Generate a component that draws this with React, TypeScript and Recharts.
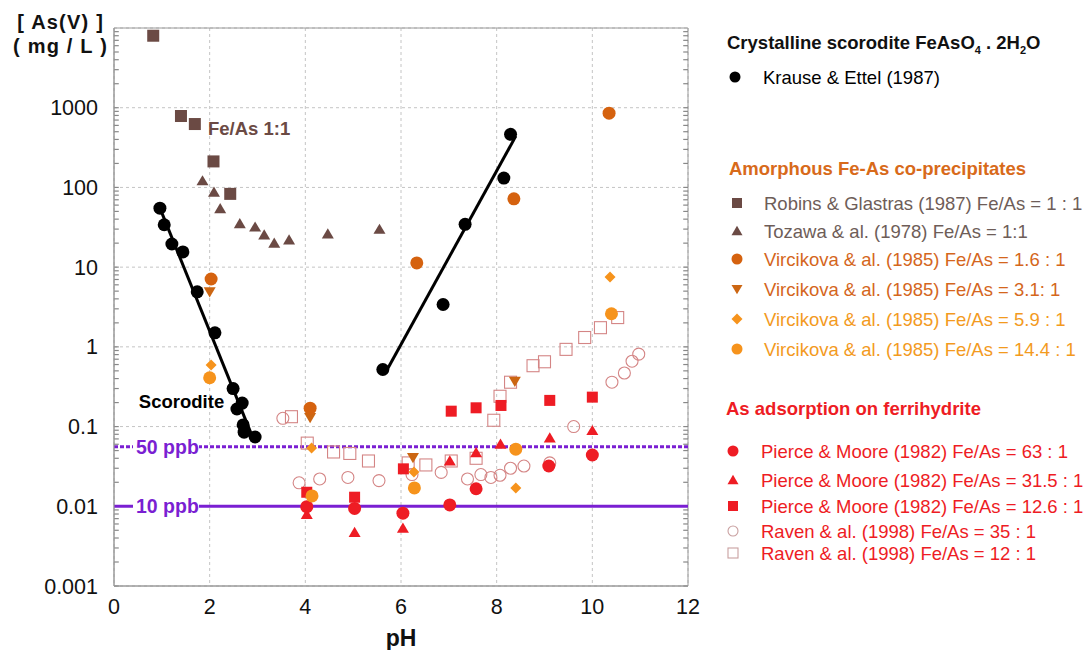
import React from 'react';
import {
  ScatterChart,
  Scatter,
  XAxis,
  YAxis,
  CartesianGrid,
  ReferenceLine,
  ReferenceArea,
  ReferenceDot,
} from 'recharts';

type Pt = { ph: number; as: number };
const P = (pairs: number[][]): Pt[] => pairs.map(([ph, as]) => ({ ph, as }));

// ---------- data ----------
const krauseEttel = P([
  [0.96, 55], [1.05, 34], [1.21, 19.5], [1.44, 15.5], [1.74, 4.9], [2.11, 1.5],
  [2.49, 0.3], [2.57, 0.166], [2.68, 0.197], [2.7, 0.105], [2.72, 0.085], [2.95, 0.074],
  [5.62, 0.52], [6.88, 3.4], [7.34, 34.4], [8.15, 131], [8.29, 463],
]);
const scoroditeFitAcid = P([[0.95, 57], [2.88, 0.078]]);
const scoroditeFitBasic = P([[5.68, 0.48], [8.4, 440]]);

const robinsGlastras = P([[0.82, 8000], [1.4, 787], [1.69, 624], [2.08, 212], [2.43, 83]]);
const tozawa = P([
  [1.85, 121], [2.09, 87], [2.22, 54], [2.63, 35], [2.95, 31.8], [3.14, 25.3],
  [3.35, 20], [3.66, 21.9], [4.47, 26], [5.55, 29.8],
]);
const vircikova16 = P([[2.03, 7.1], [4.1, 0.17], [6.33, 11.3], [8.36, 72], [10.35, 855]]);
const vircikova31 = P([[2.0, 4.9], [4.1, 0.13], [6.25, 0.041], [8.38, 0.37]]);
const vircikova59 = P([[2.03, 0.59], [4.13, 0.054], [6.27, 0.027], [8.4, 0.017], [10.37, 7.5]]);
const vircikova144 = P([[2.0, 0.41], [4.14, 0.0135], [6.28, 0.017], [8.4, 0.052], [10.4, 2.6]]);

const pierce63 = P([
  [4.03, 0.0099], [5.03, 0.0094], [6.04, 0.0082], [7.02, 0.0104], [7.57, 0.0166],
  [9.09, 0.032], [10.0, 0.044],
]);
const pierce315 = P([
  [4.03, 0.0079], [5.03, 0.0047], [6.04, 0.0053], [7.02, 0.037], [7.57, 0.047],
  [8.08, 0.06], [9.11, 0.072], [10.0, 0.089],
]);
const pierce126 = P([
  [4.03, 0.015], [5.03, 0.013], [6.05, 0.0295], [7.05, 0.156], [7.57, 0.172],
  [8.09, 0.184], [9.11, 0.213], [10.0, 0.234],
]);
const raven35 = P([
  [3.53, 0.127], [3.87, 0.0197], [4.3, 0.022], [4.89, 0.023], [5.54, 0.021], [6.23, 0.025],
  [6.84, 0.0266], [7.39, 0.022], [7.67, 0.025], [7.88, 0.023], [8.07, 0.0245], [8.29, 0.03],
  [8.57, 0.032], [9.11, 0.035], [9.61, 0.1], [10.41, 0.36], [10.67, 0.47], [10.83, 0.66],
  [10.97, 0.81],
]);
const raven12 = P([
  [3.71, 0.133], [4.04, 0.062], [4.59, 0.048], [4.93, 0.046], [5.32, 0.037], [6.15, 0.035],
  [6.52, 0.033], [7.05, 0.037], [7.57, 0.04], [7.94, 0.12], [8.07, 0.24], [8.29, 0.36],
  [8.76, 0.58], [9.0, 0.65], [9.45, 0.93], [9.84, 1.31], [10.17, 1.74], [10.53, 2.33],
]);

const xTicks = [0, 2, 4, 6, 8, 10, 12];
const yTicks = [0.001, 0.01, 0.1, 1, 10, 100, 1000];
const limit50 = 0.056;
const limit10 = 0.01;
const X_DOMAIN: [number, number] = [0, 12];
const Y_DOMAIN: [number, number] = [0.001, 10000];

// minor log ticks on the left and right frame
const minorTicks: number[] = [];
yTicks.forEach((d) => {
  for (let k = 1; k <= 9; k++) minorTicks.push(+(d * k).toPrecision(3));
});
const MINOR_LEN = 0.1; // in pH units

// ---------- styles ----------
const FONT = '"Liberation Sans", Arial, Helvetica, sans-serif';
const BROWN = '#6b4a44';
const BROWN_TXT = '#6e5d58';
const DORANGE = '#d5620f';
const DORANGE2 = '#cc6612';
const LORANGE = '#f6931c';
const ORANGE_TXT_D = '#d4661c';
const ORANGE_TXT_L = '#f39a1e';
const RED = '#ee1c24';
const PINK = '#d48585';
const PURPLE = '#7a1fd2';
const FRAME = '#9a9a9a';

type Kind = 'circle' | 'square' | 'triangle' | 'down' | 'diamond' | 'ocircle' | 'osquare';

function Marker({ kind, cx, cy, color, s }: { kind: Kind; cx: number; cy: number; color: string; s: number }) {
  const h = s / 2;
  switch (kind) {
    case 'circle':
      return <circle cx={cx} cy={cy} r={h} fill={color} />;
    case 'square':
      return <rect x={cx - h} y={cy - h} width={s} height={s} fill={color} />;
    case 'triangle':
      return <path d={`M${cx},${cy - h * 0.95}L${cx + h},${cy + h * 0.75}L${cx - h},${cy + h * 0.75}Z`} fill={color} />;
    case 'down':
      return <path d={`M${cx},${cy + h * 0.95}L${cx + h},${cy - h * 0.75}L${cx - h},${cy - h * 0.75}Z`} fill={color} />;
    case 'diamond':
      return <path d={`M${cx},${cy - h}L${cx + h},${cy}L${cx},${cy + h}L${cx - h},${cy}Z`} fill={color} />;
    case 'ocircle':
      return <circle cx={cx} cy={cy} r={h - 0.5} fill="none" stroke={color} strokeWidth={1.1} />;
    case 'osquare':
      return <rect x={cx - h + 0.5} y={cy - h + 0.5} width={s - 1} height={s - 1} fill="none" stroke={color} strokeWidth={1.1} />;
  }
  return null;
}

const shape = (kind: Kind, color: string, s: number) => (props: any) =>
  <Marker kind={kind} cx={props.cx} cy={props.cy} color={color} s={s} />;
const noShape = () => <g />;

const series = [
  { name: 'Raven12', data: raven12, kind: 'osquare' as Kind, color: PINK, s: 13 },
  { name: 'Raven35', data: raven35, kind: 'ocircle' as Kind, color: PINK, s: 13 },
  { name: 'Pierce126', data: pierce126, kind: 'square' as Kind, color: RED, s: 11 },
  { name: 'Pierce315', data: pierce315, kind: 'triangle' as Kind, color: RED, s: 12 },
  { name: 'Pierce63', data: pierce63, kind: 'circle' as Kind, color: RED, s: 13 },
  { name: 'Vir144', data: vircikova144, kind: 'circle' as Kind, color: LORANGE, s: 13 },
  { name: 'Vir59', data: vircikova59, kind: 'diamond' as Kind, color: LORANGE, s: 11 },
  { name: 'Vir31', data: vircikova31, kind: 'down' as Kind, color: DORANGE2, s: 12 },
  { name: 'Vir16', data: vircikova16, kind: 'circle' as Kind, color: DORANGE, s: 13 },
  { name: 'Tozawa', data: tozawa, kind: 'triangle' as Kind, color: BROWN, s: 12 },
  { name: 'Robins', data: robinsGlastras, kind: 'square' as Kind, color: BROWN, s: 12 },
  { name: 'Krause', data: krauseEttel, kind: 'circle' as Kind, color: '#000', s: 13 },
];

const legendGroups = [
  {
    header: 'crystalline',
    color: '#000',
    items: [{ kind: 'circle' as Kind, color: '#000', text: 'Krause  & Ettel  (1987)', textColor: '#000' }],
  },
  {
    header: 'Amorphous Fe-As co-precipitates',
    color: '#d86a1a',
    items: [
      { kind: 'square' as Kind, color: BROWN, text: 'Robins & Glastras (1987) Fe/As = 1 : 1', textColor: BROWN_TXT },
      { kind: 'triangle' as Kind, color: BROWN, text: 'Tozawa & al. (1978) Fe/As = 1:1', textColor: BROWN_TXT },
      { kind: 'circle' as Kind, color: DORANGE, text: 'Vircikova & al. (1985) Fe/As = 1.6 : 1', textColor: ORANGE_TXT_D },
      { kind: 'down' as Kind, color: DORANGE2, text: 'Vircikova & al. (1985) Fe/As = 3.1: 1', textColor: ORANGE_TXT_D },
      { kind: 'diamond' as Kind, color: LORANGE, text: 'Vircikova & al. (1985) Fe/As = 5.9 : 1', textColor: ORANGE_TXT_L },
      { kind: 'circle' as Kind, color: LORANGE, text: 'Vircikova & al. (1985) Fe/As = 14.4 : 1', textColor: ORANGE_TXT_L },
    ],
  },
  {
    header: 'As adsorption on ferrihydrite',
    color: RED,
    items: [
      { kind: 'circle' as Kind, color: RED, text: 'Pierce & Moore (1982)  Fe/As = 63 : 1', textColor: RED },
      { kind: 'triangle' as Kind, color: RED, text: 'Pierce & Moore (1982) Fe/As = 31.5  : 1', textColor: RED },
      { kind: 'square' as Kind, color: RED, text: 'Pierce & Moore (1982) Fe/As = 12.6 : 1', textColor: RED },
      { kind: 'ocircle' as Kind, color: '#c9a0a0', text: 'Raven & al. (1998) Fe/As = 35 : 1', textColor: RED },
      { kind: 'osquare' as Kind, color: '#c9a0a0', text: 'Raven & al. (1998) Fe/As = 12 : 1', textColor: RED },
    ],
  },
];

// legend layout (pixel rows)
const headerY = [43, 169, 409];
const rowYs = [[77], [203, 231, 259, 289, 319, 349], [451, 480, 506, 531, 553]];
const headerX = [727, 729, 726];
const markerX = [735, 737, 733];
const textX = [763, 764, 761];

const ppbLabel = (text: string) => (props: any) => {
  const vb = props.viewBox || {};
  const x = vb.x ?? 0;
  const y = vb.y ?? 0;
  return (
    <g>
      <rect x={x + 19} y={y - 11} width={66} height={22} fill="#fff" />
      <text x={x + 22} y={y + 7} fill={PURPLE} fontFamily={FONT} fontWeight="bold" fontSize={19.5}>
        {text}
      </text>
    </g>
  );
};

const annotation = (text: string, color: string) => (props: any) => (
  <text x={props.cx} y={props.cy + 6} fill={color} fontFamily={FONT} fontWeight="bold" fontSize={18.5}>
    {text}
  </text>
);

const TICK_STYLE = { fontSize: 21.5, fill: '#111', fontFamily: FONT };

export default function App() {
  return (
    <div style={{ position: 'absolute', left: 0, top: 0, width: 1089, height: 650, background: '#fff' }}>
      <ScatterChart width={1089} height={650} margin={{ top: 28, right: 401, bottom: 4, left: 14 }}>
        <CartesianGrid stroke="#c4c4c4" strokeDasharray="3 3" />
        <XAxis
          dataKey="ph"
          type="number"
          domain={X_DOMAIN}
          ticks={xTicks}
          interval={0}
          allowDataOverflow
          height={60}
          tickLine={false}
          tickSize={6}
          tickMargin={7}
          axisLine={{ stroke: FRAME }}
          tick={TICK_STYLE}
          label={{
            value: 'pH',
            position: 'insideBottom',
            offset: 0,
            style: { fontSize: 23, fontWeight: 'bold', fill: '#111', fontFamily: FONT },
          }}
        />
        <YAxis
          dataKey="as"
          type="number"
          scale="log"
          domain={Y_DOMAIN}
          ticks={yTicks}
          interval={0}
          allowDataOverflow
          width={100}
          tickLine={false}
          tickSize={6}
          tickMargin={10}
          axisLine={{ stroke: FRAME }}
          tickFormatter={(v: number) => String(v)}
          tick={TICK_STYLE}
        />
        <ReferenceArea
          x1={X_DOMAIN[0]}
          x2={X_DOMAIN[1]}
          y1={Y_DOMAIN[0]}
          y2={Y_DOMAIN[1]}
          fill="none"
          stroke={FRAME}
          strokeWidth={1}
          ifOverflow="visible"
        />
        {minorTicks.map((v) => (
          <ReferenceLine
            key={`ml${v}`}
            segment={[{ x: X_DOMAIN[0], y: v }, { x: X_DOMAIN[0] + MINOR_LEN, y: v }]}
            stroke="#888"
            strokeWidth={1.2}
            ifOverflow="visible"
          />
        ))}
        {minorTicks.map((v) => (
          <ReferenceLine
            key={`mr${v}`}
            segment={[{ x: X_DOMAIN[1] - MINOR_LEN, y: v }, { x: X_DOMAIN[1], y: v }]}
            stroke="#888"
            strokeWidth={1.2}
            ifOverflow="visible"
          />
        ))}
        <ReferenceLine
          y={limit50}
          stroke={PURPLE}
          strokeWidth={3}
          strokeDasharray="4 2"
          label={ppbLabel('50 ppb')}
        />
        <ReferenceLine y={limit10} stroke={PURPLE} strokeWidth={3} label={ppbLabel('10 ppb')} />
        {series.map((s) => (
          <Scatter
            key={s.name}
            name={s.name}
            data={s.data}
            shape={shape(s.kind, s.color, s.s)}
            isAnimationActive={false}
          />
        ))}
        <Scatter
          name="fitAcid"
          data={scoroditeFitAcid}
          line={{ stroke: '#000', strokeWidth: 3 }}
          shape={noShape}
          isAnimationActive={false}
        />
        <Scatter
          name="fitBasic"
          data={scoroditeFitBasic}
          line={{ stroke: '#000', strokeWidth: 3 }}
          shape={noShape}
          isAnimationActive={false}
        />
        <ReferenceDot x={1.965} y={541} r={0} shape={annotation('Fe/As 1:1', BROWN)} ifOverflow="visible" />
        <ReferenceDot x={0.52} y={0.203} r={0} shape={annotation('Scorodite', '#000')} ifOverflow="visible" />
      </ScatterChart>

      <svg
        width={1089}
        height={650}
        style={{ position: 'absolute', left: 0, top: 0, pointerEvents: 'none' }}
      >
        <text x={104} y={29} textAnchor="end" fontFamily={FONT} fontWeight="bold" fontSize={20} letterSpacing={1.2} fill="#111">
          [ As(V) ]
        </text>
        <text x={108} y={53} textAnchor="end" fontFamily={FONT} fontWeight="bold" fontSize={20} letterSpacing={1.2} fill="#111">
          ( mg / L )
        </text>
        {legendGroups.map((g, gi) => (
          <g key={gi}>
            {gi === 0 ? (
              <text x={headerX[gi]} y={headerY[gi] + 6} fontFamily={FONT} fontWeight="bold" fontSize={18.5} fill="#111">
                Crystalline scorodite FeAsO
                <tspan fontSize={11} dy={5}>4</tspan>
                <tspan dy={-5}> . 2H</tspan>
                <tspan fontSize={11} dy={5}>2</tspan>
                <tspan dy={-5}>O</tspan>
              </text>
            ) : (
              <text x={headerX[gi]} y={headerY[gi] + 6} fontFamily={FONT} fontWeight="bold" fontSize={18.5} fill={g.color}>
                {g.header}
              </text>
            )}
            {g.items.map((it, ii) => (
              <g key={ii}>
                <Marker kind={it.kind} cx={markerX[gi]} cy={rowYs[gi][ii]} color={it.color} s={it.kind === 'square' ? 10 : 11} />
                <text x={textX[gi]} y={rowYs[gi][ii] + 6.5} fontFamily={FONT} fontSize={18.5} fill={it.textColor}>
                  {it.text}
                </text>
              </g>
            ))}
          </g>
        ))}
      </svg>
    </div>
  );
}
